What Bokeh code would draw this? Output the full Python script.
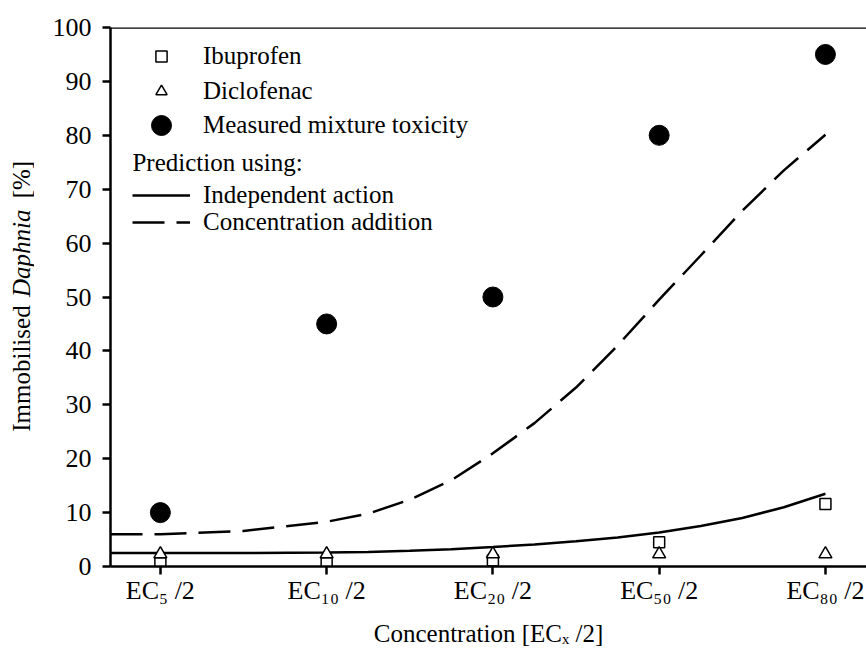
import math
from bokeh.plotting import figure
from bokeh.layouts import row
from bokeh.models import FixedTicker, Legend, LegendItem, Label, Span
from bokeh.embed import file_html
from bokeh.resources import INLINE

# ---- data ----
positions = [1, 2, 3, 4, 5]
tick_labels = ["EC₅ /2", "EC₁₀ /2", "EC₂₀ /2", "EC₅₀ /2", "EC₈₀ /2"]
y_ticks = [0, 10, 20, 30, 40, 50, 60, 70, 80, 90, 100]

ibuprofen = [0.6, 0.6, 1.1, 4.5, 11.6]
diclofenac = [2.3, 2.3, 2.3, 2.3, 2.3]
measured = [10, 45, 50, 80, 95]

curve_x = [0.7, 1.0, 1.5, 2.0, 2.25, 2.5, 2.75, 3.0, 3.25, 3.5, 3.75, 4.0, 4.25, 4.5, 4.75, 5.0]
independent_action = [2.5, 2.5, 2.5, 2.6, 2.7, 2.9, 3.2, 3.6, 4.1, 4.7, 5.4, 6.3, 7.5, 9.0, 11.0, 13.5]
concentration_addition = [6.0, 6.0, 6.6, 8.3, 9.8, 12.4, 16.0, 21.0, 26.6, 33.2, 41.0, 49.5, 57.7, 66.0, 73.5, 80.1]

FONT = "Liberation Serif"
FS = "25px"
TICK_FS = "26px"
TOP = 27
BOTTOM = 82
H = 649
LEFT_STRIP = 34

p = figure(width=866 - LEFT_STRIP, height=H, x_range=(0.7, 5.247), y_range=(0, 100),
           output_backend="svg", toolbar_location=None,
           min_border_left=110 - LEFT_STRIP, min_border_right=0,
           min_border_top=TOP, min_border_bottom=BOTTOM)
p.outline_line_color = None
p.grid.visible = False
p.background_fill_color = "white"

# axes
p.xaxis.ticker = FixedTicker(ticks=positions)
p.xaxis.major_label_overrides = {pos: lab for pos, lab in zip(positions, tick_labels)}
p.yaxis.ticker = FixedTicker(ticks=y_ticks)
for ax in (p.xaxis[0], p.yaxis[0]):
    ax.axis_line_width = 2.5
    ax.axis_line_color = "black"
    ax.major_tick_line_width = 2.5
    ax.major_tick_line_color = "black"
    ax.major_tick_out = 8
    ax.major_tick_in = 0
    ax.minor_tick_line_color = None
    ax.major_label_text_font = FONT
    ax.major_label_text_font_size = TICK_FS
    ax.major_label_text_color = "black"
p.yaxis.major_label_standoff = 11
p.xaxis.major_label_standoff = 1
p.xaxis.axis_label = "Concentration [ECₓ /2]"
p.xaxis.axis_label_text_font = FONT
p.xaxis.axis_label_text_font_size = FS
p.xaxis.axis_label_text_font_style = "normal"
p.xaxis.axis_label_text_color = "black"
p.xaxis.axis_label_standoff = 12

# top frame line
p.add_layout(Span(location=100, dimension="width", line_color="black", line_width=2.5))

# curves
r_ia = p.line(curve_x, independent_action, line_color="black", line_width=2.5)
r_ca = p.line(curve_x, concentration_addition, line_color="black", line_width=2.5, line_dash="32 12")

# markers
r_sq = p.scatter(positions, ibuprofen, marker="square", size=11, fill_color="white",
                 line_color="black", line_width=1.5)
r_tri = p.scatter(positions, diclofenac, marker="triangle", size=13, fill_color="white",
                  line_color="black", line_width=1.5)
r_circ = p.scatter(positions, measured, marker="circle", size=20, fill_color="black",
                   line_color="black")

# legends (one per row so each row sits where it does in the original)
FRAME_BOTTOM = H - BOTTOM  # page px of the x axis
FRAME_LEFT = 110


def make_legend(label, renderer, center_y, glyph_h):
    bottom = center_y + glyph_h / 2.0
    lg = Legend(items=[LegendItem(label=label, renderers=[renderer])],
                location=(132 - FRAME_LEFT, FRAME_BOTTOM - bottom),
                glyph_width=58, glyph_height=glyph_h, label_height=glyph_h,
                label_standoff=13, padding=0, margin=0, spacing=0,
                border_line_color=None, background_fill_alpha=0,
                label_text_font=FONT, label_text_font_size=FS, label_text_color="black")
    p.add_layout(lg)


make_legend("Ibuprofen", r_sq, 57, 28)
make_legend("Diclofenac", r_tri, 92, 28)
make_legend("Measured mixture toxicity", r_circ, 125.5, 50)
make_legend("Independent action", r_ia, 195.5, 28)
make_legend("Concentration addition", r_ca, 223, 28)

p.add_layout(Label(x=0.832, y=75.0, text="Prediction using:", text_baseline="middle",
                   text_align="left", text_font=FONT, text_font_size=FS, text_color="black"))

# narrow strip on the left that carries the y-axis title (with italic species name)
ystrip = figure(width=LEFT_STRIP, height=H, x_range=(0, LEFT_STRIP), y_range=p.y_range,
                output_backend="svg", toolbar_location=None,
                x_axis_location=None, y_axis_location=None,
                min_border_left=0, min_border_right=0,
                min_border_top=TOP, min_border_bottom=BOTTOM)
ystrip.outline_line_color = None
ystrip.grid.visible = False
for txt, yy, style in [("Immobilised", 25.0, "normal"), ("Daphnia", 50.0, "italic"), ("[%]", 68.3, "normal")]:
    ystrip.add_layout(Label(x=21, y=yy, text=txt, angle=math.pi / 2, text_baseline="middle",
                            text_align="left", text_font=FONT, text_font_size=FS,
                            text_font_style=style, text_color="black"))

layout = row(ystrip, p)
open("out.html", "w").write(file_html(layout, INLINE))
